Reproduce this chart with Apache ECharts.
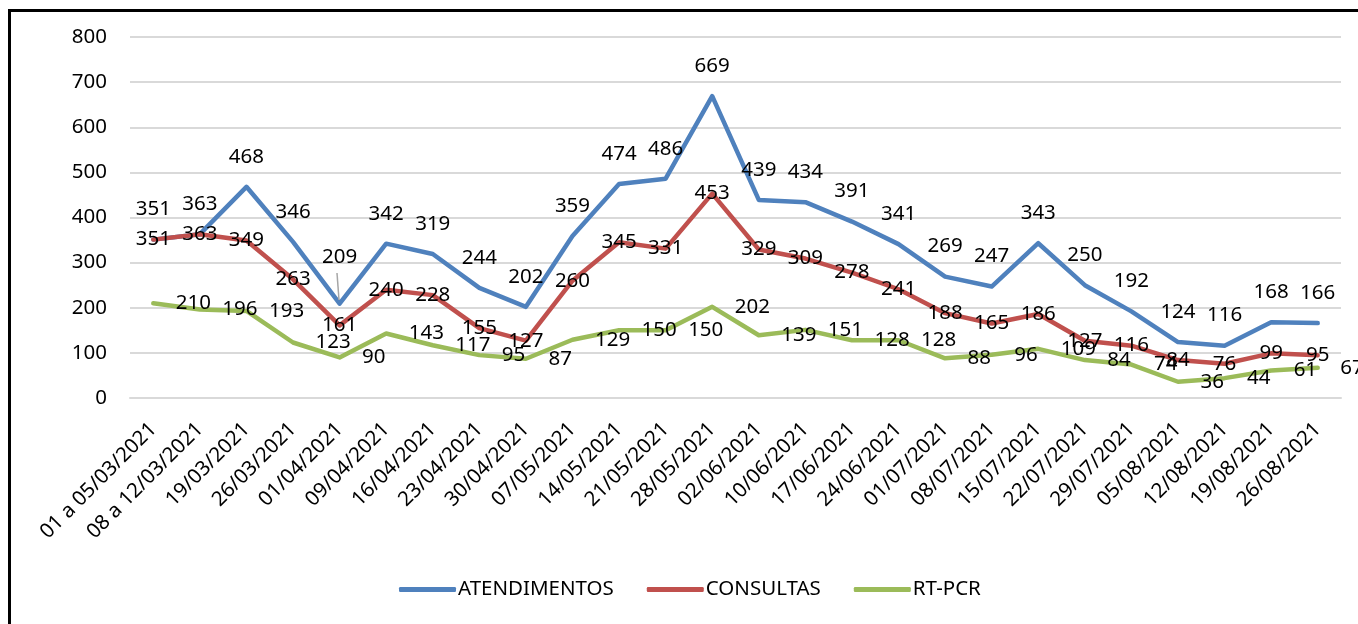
<!DOCTYPE html>
<html>
<head>
<meta charset="utf-8">
<script src="https://cdn.jsdelivr.net/npm/echarts@6/dist/echarts.min.js"></script>
<style>
html,body{margin:0;padding:0;background:#fff;}
#chart{width:1358px;height:624px;}
</style>
</head>
<body>
<div id="chart"></div>
<script>
var categories = ['01 a 05/03/2021','08 a 12/03/2021','19/03/2021','26/03/2021','01/04/2021','09/04/2021','16/04/2021','23/04/2021','30/04/2021','07/05/2021','14/05/2021','21/05/2021','28/05/2021','02/06/2021','10/06/2021','17/06/2021','24/06/2021','01/07/2021','08/07/2021','15/07/2021','22/07/2021','29/07/2021','05/08/2021','12/08/2021','19/08/2021','26/08/2021'];
var atendimentos = [351,363,468,346,209,342,319,244,202,359,474,486,669,439,434,391,341,269,247,343,250,192,124,116,168,166];
var consultas = [351,363,349,263,161,240,228,155,127,260,345,331,453,329,309,278,241,188,165,186,127,116,84,76,99,95];
var rtpcr = [210,196,193,123,90,143,117,95,87,129,150,150,202,139,151,128,128,88,96,109,84,74,36,44,61,67];
var seriesNames = ['ATENDIMENTOS','CONSULTAS','RT-PCR'];
var yTicks = {min:0, max:800, interval:100};

var FONT = 'Noto Sans';
var chart = echarts.init(document.getElementById('chart'));

function lineSeries(name, data, color, label, z) {
  return {
    name: name, type: 'line', data: data, z: z,
    symbol: 'circle', symbolSize: 1, showSymbol: true,
    itemStyle: {color: color},
    lineStyle: {color: color, width: 4.5, cap: 'round', join: 'round'},
    label: Object.assign({show: true, color: '#000', fontFamily: FONT, fontSize: 20.5}, label),
    emphasis: {disabled: true},
    animation: false
  };
}

var blueData = atendimentos.map(function(v, i){
  if (i === 4) return {value: v, label: {offset: [0, -17]}};
  return v;
});

chart.setOption({
  backgroundColor: '#fff',
  animation: false,
  graphic: [{
    type: 'rect', silent: true, z: 100,
    shape: {x: 9.5, y: 10.5, width: 1500, height: 800},
    style: {fill: 'none', stroke: '#000', lineWidth: 3}
  }, {
    type: 'line', silent: true, z: 100,
    shape: {x1: 337, y1: 273, x2: 339, y2: 300},
    style: {stroke: '#a6a6a6', lineWidth: 1.5}
  }],
  grid: {left: 130, right: 17, top: 37, bottom: 226},
  legend: {
    data: seriesNames, left: 394, top: 574,
    icon: 'roundRect', itemWidth: 57, itemHeight: 5, itemGap: 33,
    textStyle: {fontFamily: FONT, fontSize: 20.5, color: '#000', padding: [0,0,0,-3]}
  },
  xAxis: {
    type: 'category', data: categories, boundaryGap: true,
    axisLine: {show: true, lineStyle: {color: '#d9d9d9', width: 2}},
    axisTick: {show: false},
    axisLabel: {rotate: 45, interval: 0, margin: 28, fontFamily: FONT, fontSize: 20.5, color: '#000'}
  },
  yAxis: {
    type: 'value', min: yTicks.min, max: yTicks.max, interval: yTicks.interval,
    axisLine: {show: false}, axisTick: {show: false},
    splitLine: {lineStyle: {color: '#d9d9d9', width: 2}},
    axisLabel: {margin: 23, fontFamily: FONT, fontSize: 20.5, color: '#000'}
  },
  series: [
    lineSeries(seriesNames[0], blueData, '#4F81BD', {position: 'top', distance: 19}, 2),
    lineSeries(seriesNames[1], consultas, '#C0504D', {position: 'inside'}, 3),
    lineSeries(seriesNames[2], rtpcr, '#9BBB59', {position: 'right', distance: 22}, 4)
  ]
});
</script>
</body>
</html>
